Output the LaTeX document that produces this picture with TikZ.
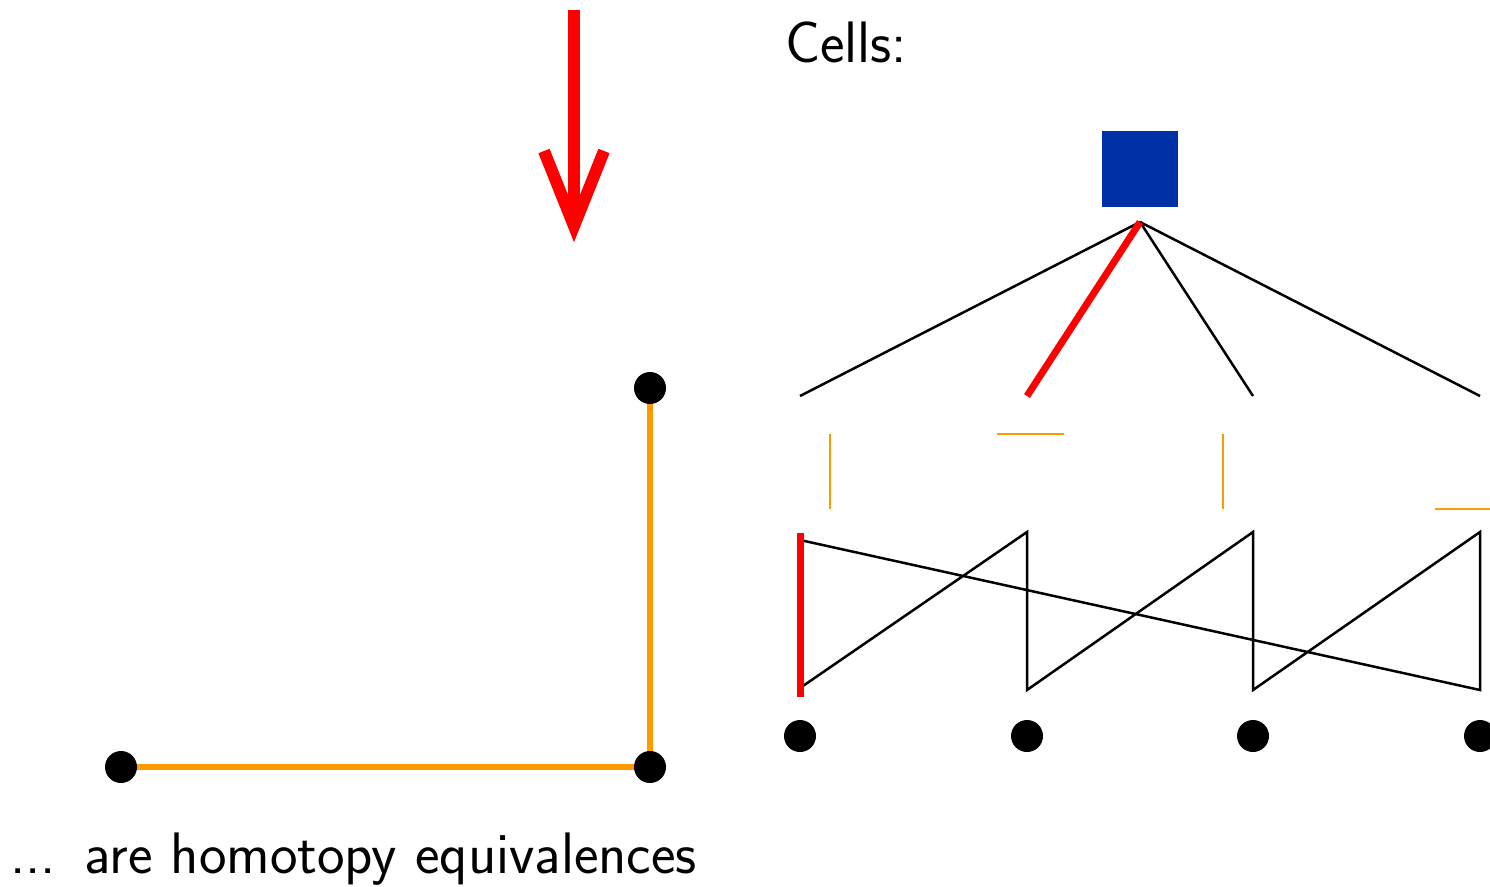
\documentclass[tikz,border=0pt]{standalone}
\usetikzlibrary{calc}
\definecolor{cellblue}{RGB}{0,48,165}
\definecolor{edgeorange}{RGB}{255,153,0}
\definecolor{mapred}{RGB}{255,0,0}
\begin{document}
\begin{tikzpicture}[x=1pt,y=-1pt,
  dot/.style={circle,fill=black,inner sep=0pt,minimum size=32pt},
  thinblack/.style={line width=2.5pt,black},
  thickred/.style={line width=7pt,mapred},
  thinorange/.style={line width=2.5pt,edgeorange},
  thickorange/.style={line width=6.5pt,edgeorange},
  bigarrow/.style={line width=12pt,mapred,miter limit=10},
  label/.style={font=\sffamily\fontsize{58.5}{62}\selectfont,anchor=base west,inner sep=0pt}]
\useasboundingbox (0,0) rectangle (1490,886);
\clip (0,0) rectangle (1490,886);

% downward map arrow
\coordinate (arrtop) at (574,10);
\coordinate (arrtip) at (574,226);
\coordinate (arrl) at (544,151);
\coordinate (arrr) at (604,151);
\draw[bigarrow] (arrtop) -- ($(arrtip)+(0,-10)$);
\draw[bigarrow] (arrl) -- (arrtip) -- (arrr);

% heading
\node[label] (cells) at (785,62) {Cells:};

% top cell and its faces
\node[fill=cellblue,inner sep=0pt,minimum size=76pt] (cell) at (1140,169) {};
\coordinate (apex) at (1140,222);
\coordinate (f1) at (800,396);
\coordinate (f2) at (1027,396);
\coordinate (f3) at (1253,396);
\coordinate (f4) at (1480,396);
\draw[thinblack] (apex) -- (f1);
\draw[thinblack] (apex) -- (f3);
\draw[thinblack] (apex) -- (f4);
\draw[thickred] (apex) -- (f2);

% orange edge cells
\coordinate (o1a) at (830,434);  \coordinate (o1b) at (830,509);
\coordinate (o2a) at (997,434);  \coordinate (o2b) at (1064,434);
\coordinate (o3a) at (1223,434); \coordinate (o3b) at (1223,509);
\coordinate (o4a) at (1435,509); \coordinate (o4b) at (1510,509);
\draw[thinorange] (o1a) -- (o1b);
\draw[thinorange] (o2a) -- (o2b);
\draw[thinorange] (o3a) -- (o3b);
\draw[thinorange] (o4a) -- (o4b);

% zigzag of edges down to the vertices
\coordinate (zs) at (800,688);
\coordinate (t2) at (1027,532); \coordinate (b2) at (1027,690);
\coordinate (t3) at (1253,532); \coordinate (b3) at (1253,690);
\coordinate (t4) at (1480,532); \coordinate (b4) at (1480,690);
\coordinate (zl) at (800,540);
\draw[thinblack,line join=miter] (zs) -- (t2) -- (b2) -- (t3) -- (b3) -- (t4) -- (b4) -- (zl);
\draw[thickred] (800,533) -- (800,697);

% vertex cells
\node[dot] (v1) at (800,736) {};
\node[dot] (v2) at (1027,736) {};
\node[dot] (v3) at (1253,736) {};
\node[dot] (v4) at (1480,736) {};

% left: L-shaped path
\coordinate (pa) at (121,767);
\coordinate (pb) at (650,767);
\coordinate (pc) at (650,388);
\draw[thickorange] (pa) -- (pb) -- (pc);
\node[dot] (da) at (pa) {};
\node[dot] (db) at (pb) {};
\node[dot] (dc) at (pc) {};

\node[label] (caption) at (10,873) {...\hspace{4pt} are homotopy equivalences};
\end{tikzpicture}
\end{document}
